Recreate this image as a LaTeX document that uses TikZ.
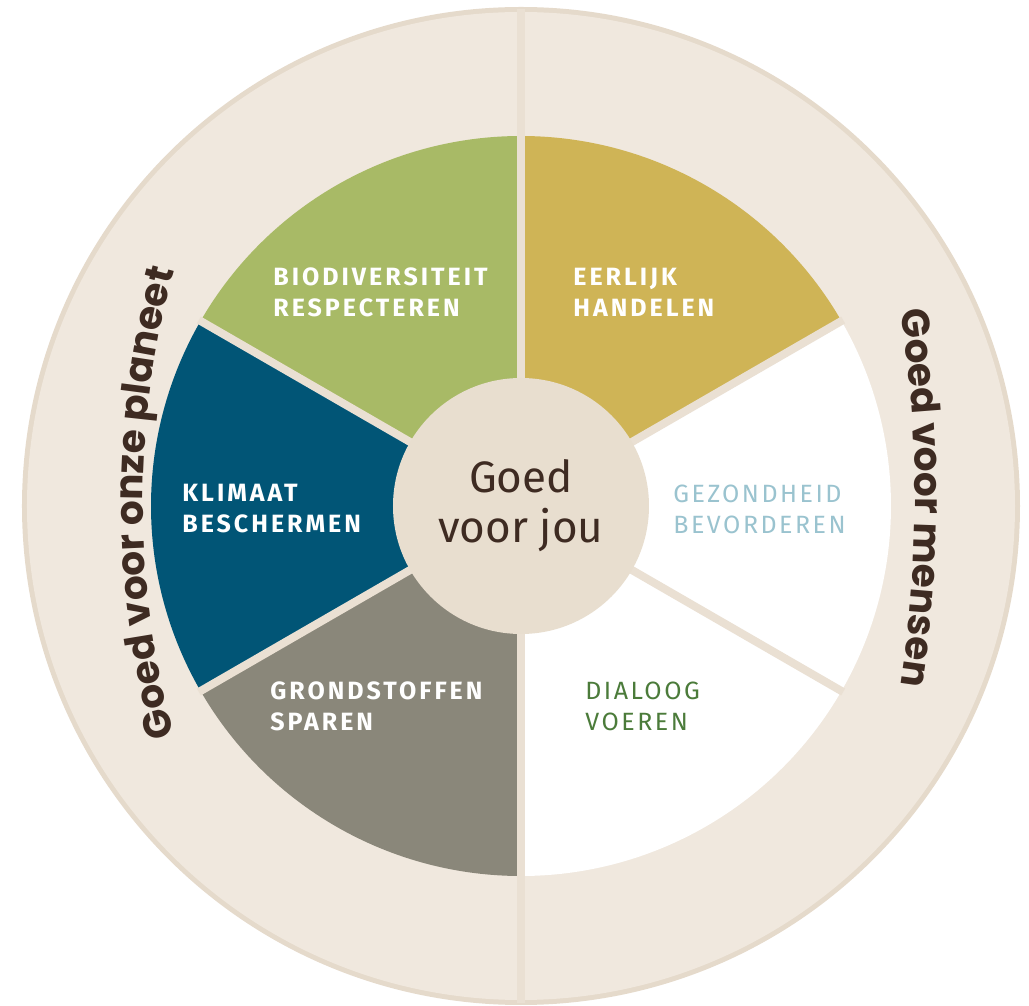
\documentclass[tikz,border=0pt]{standalone}
\usepackage{fontspec}
\setmainfont{Fira Sans}
\newfontfamily\labelfont[LetterSpace=12]{Fira Sans}
\newfontfamily\softfont[LetterSpace=10]{Fira Sans}
\newfontfamily\arcfont{Poppins}
\usetikzlibrary{decorations.text}
\definecolor{ringfill}{HTML}{F0E8DE}
\definecolor{ringedge}{HTML}{E5DACB}
\definecolor{dividerbeige}{HTML}{EAE0D3}
\definecolor{hubfill}{HTML}{E8DECF}
\definecolor{leafgreen}{HTML}{A8BA66}
\definecolor{mustard}{HTML}{CFB456}
\definecolor{petrol}{HTML}{015576}
\definecolor{stone}{HTML}{8A877A}
\definecolor{darkbrown}{HTML}{3E2B22}
\definecolor{skyblue}{HTML}{9AC3CF}
\definecolor{mossgreen}{HTML}{4B7B3A}

\begin{document}
\begin{tikzpicture}[x=0.5pt, y=0.5pt]
    \tikzstyle{label_style} = [anchor=west, align=left, inner sep=0pt, white, font=\labelfont\bfseries\fontsize{12.5}{15.5}\selectfont]
    \tikzstyle{soft_label_style} = [anchor=west, align=left, inner sep=0pt, font=\softfont\fontsize{12.5}{15.5}\selectfont]
    \tikzstyle{gap_style} = [line width=4pt, dividerbeige]

    \def\rwheel{370}

    \useasboundingbox (-521,-500) rectangle (508,506);

    % outer ring
    \fill[ringedge] (0,0) circle (499);
    \fill[ringfill] (0,0) circle (494);
    \draw[gap_style] (0,-497) -- (0,497);

    % six wedges
    \foreach \a/\col in {30/mustard, 90/leafgreen, 150/petrol, 210/stone, 270/white, 330/white}
      \fill[\col] (0,0) -- (\a:\rwheel) arc[start angle=\a, end angle=\a+60, radius=\rwheel] -- cycle;
    \foreach \a in {30,90,...,330}
      \draw[gap_style] (0,0) -- (\a:\rwheel+2);

    % hub
    \node (hub) [circle, fill=hubfill, minimum size=128pt, inner sep=0pt, align=center, text=darkbrown,
      font=\fontsize{22}{25}\selectfont] at (0,0) {Goed\\voor jou};

    \node (bio) [label_style] at (-248,214) {BIODIVERSITEIT\\RESPECTEREN};
    \node (eerlijk) [label_style] at (52,214) {EERLIJK\\HANDELEN};
    \node (klimaat) [label_style] at (-339,-3) {KLIMAAT\\BESCHERMEN};
    \node (gezond) [soft_label_style, skyblue] at (152,-3) {GEZONDHEID\\BEVORDEREN};
    \node (grond) [label_style] at (-251,-200) {GRONDSTOFFEN\\SPAREN};
    \node (dialoog) [soft_label_style, mossgreen] at (64,-200) {DIALOOG\\VOEREN};

    % curved titles, on wide flat arcs
    \path[decorate, decoration={text along path, text align=center,
      text={|\arcfont\bfseries\fontsize{19.5}{20}\selectfont\color{darkbrown}|Goed voor onze planeet}}]
      ([shift={(498,3)}]200:876) arc[start angle=200, end angle=160, radius=876];
    \path[decorate, decoration={text along path, text align=center,
      text={|\arcfont\bfseries\fontsize{19.5}{20}\selectfont\color{darkbrown}|Goed voor mensen}}]
      ([shift={(-845,8)}]20:1239) arc[start angle=20, end angle=-20, radius=1239];
\end{tikzpicture}
\end{document}
